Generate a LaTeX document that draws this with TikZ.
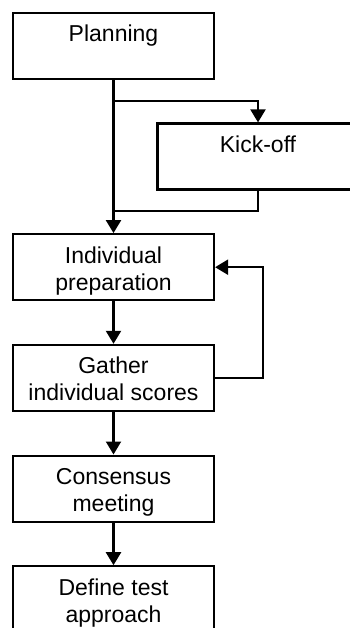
\documentclass[tikz,border=0pt]{standalone}
\usepackage{fontspec}
\setmainfont{Liberation Sans}
\usepackage{xcolor}
\usepackage{tikz}
\usetikzlibrary{positioning,arrows.meta,calc}

\newcommand{\steptext}[1]{\parbox[c][66pt][t]{201pt}{\centering\rule{0pt}{29pt}#1}}

\begin{document}
\begin{tikzpicture}[
  node distance=42.5pt,
  stage/.style={draw,line width=2.2pt,inner sep=0pt,font=\fontsize{23}{27}\selectfont},
  link/.style={line width=2.2pt},
  flow/.style={link,-{Triangle[length=13pt,width=15pt]}}
]
  \useasboundingbox (0,0) rectangle (350pt,-628pt);
  \clip (0,0) rectangle (350pt,-628pt);

  \node[stage] (plan) at (113.5pt,-46pt) {\steptext{Planning}};
  \node[stage] (kick) at (258pt,-156.5pt) {\steptext{Kick-off}};
  \node[stage,below=153pt of plan] (prep) {\steptext{Individual\\preparation}};
  \node[stage,below=of prep] (gather) {\steptext{Gather\\individual scores}};
  \node[stage,below=of gather] (cons) {\steptext{Consensus\\meeting}};
  \node[stage,below=of cons] (define) {\steptext{Define test\\approach}};

  \coordinate (split) at ($(plan.south)+(0,-21pt)$);
  \coordinate (join) at ($(prep.north)+(0,22pt)$);

  \draw[flow] (plan) -- (prep);
  \draw[flow] (split) -| (kick.north);
  \draw[link] (kick.south) |- (join);
  \draw[flow] (prep) -- (gather);
  \draw[flow] (gather) -- (cons);
  \draw[flow] (cons) -- (define);
  \draw[flow] (gather.east) -- ++(48pt,0) |- (prep.east);
\end{tikzpicture}
\end{document}
